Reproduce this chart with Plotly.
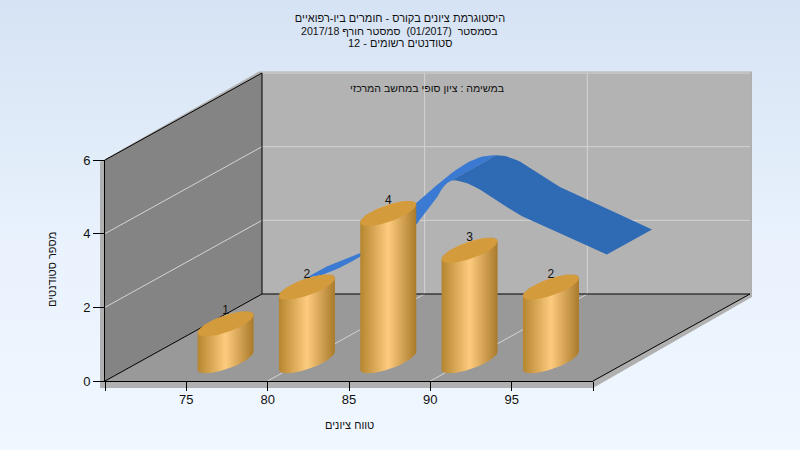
import numpy as np
import plotly.graph_objects as go

# ---- data ----
bins = [75, 80, 85, 90, 95]
students = [1, 2, 4, 3, 2]
x_ticks = [70, 75, 80, 85, 90, 95, 100]
x_labels = ["", "75", "80", "85", "90", "95", ""]
y_ticks = [0, 2, 4, 6]
x_grid = [80, 90]
y_grid = [2, 4, 6]
title_lines = [
    "היסטוגרמת ציונים בקורס - חומרים ביו-רפואיים",
    "בסמסטר  (01/2017)  סמסטר חורף 2017/18",
    "סטודנטים רשומים - 12",
]
subtitle = "במשימה : ציון סופי במחשב המרכזי"
x_title = "טווח ציונים"
y_title = "מספר סטודנטים"

# ---- layout geometry ----
W, H = 800, 450
L, R, B, T = 105, 593, 381, 160
X0, X1, Y0, Y1 = 70, 100, 0, 6
sx = (R - L) / (X1 - X0)
sy = (B - T) / (Y1 - Y0)
DX = 157 / sx      # depth vector in data units
DY = 87 / sy
xr = [X0 - L / sx, X0 + (W - L) / sx]
yr = [Y0 - (H - B) / sy, Y0 + B / sy]


def P(x, y, z):
    x, y, z = np.asarray(x, float), np.asarray(y, float), np.asarray(z, float)
    return x + z * DX, y + z * DY


def poly(xs, ys, color=None, **kw):
    return go.Scatter(x=list(xs), y=list(ys), mode="lines", fill="toself",
                      fillcolor=color, line=dict(width=0), hoverinfo="skip",
                      showlegend=False, **kw)


def segs(pairs, color, width=1):
    xs, ys = [], []
    for a, b in pairs:
        ax, ay = P(*a)
        bx, by = P(*b)
        xs += [float(ax), float(bx), None]
        ys += [float(ay), float(by), None]
    return go.Scatter(x=xs, y=ys, mode="lines", line=dict(color=color, width=width),
                      hoverinfo="skip", showlegend=False)


traces = []
# background
traces.append(poly([xr[0], xr[1], xr[1], xr[0]], [yr[0], yr[0], yr[1], yr[1]],
                   fillgradient=dict(type="vertical",
                                     colorscale=[[0, "#F0F7FF"], [0.45, "#E9F2FD"], [1, "#D6E3F4"]])))

# frame (thickness of the box)
fx, fy = 5 / sx, 7 / sy
corners = [(X0 - fx, Y0 - fy), (X1, Y0 - fy),
           (X1 + DX + 2 / sx, Y0 + DY - 3 / sy), (X1 + DX + 2 / sx, Y1 + DY + 1.5 / sy),
           (X0 + DX - 3 / sx, Y1 + DY + 1.5 / sy), (X0 - fx, Y1 - 2 / sy)]
traces.append(poly([c[0] for c in corners], [c[1] for c in corners], "#B0B0B0"))

# walls
bx, by = P([X0, X1, X1, X0], [Y0, Y0, Y1, Y1], [1, 1, 1, 1])
traces.append(poly(bx, by, "#B3B3B3"))
lx, ly = P([X0, X0, X0, X0], [Y0, Y0, Y1, Y1], [0, 1, 1, 0])
traces.append(poly(lx, ly, "#848484"))
ox, oy = P([X0, X1, X1, X0], [Y0, Y0, Y0, Y0], [0, 0, 1, 1])
traces.append(poly(ox, oy, "#999999"))

# grid lines
gc = "#D4D4D4"
grid = []
for v in y_grid:
    grid.append(((X0, v, 1), (X1, v, 1)))
    if v != Y1:
        grid.append(((X0, v, 0), (X0, v, 1)))
for v in x_grid:
    grid.append(((v, Y0, 1), (v, Y1, 1)))
    grid.append(((v, Y0, 0), (v, Y0, 1)))
traces.append(segs(grid, gc))

# box edges
edges = [((X0, Y0, 0), (X0, Y0, 1)), ((X0, Y1, 0), (X0, Y1, 1)),
         ((X0, Y0, 1), (X0, Y1, 1)), ((X0, Y0, 1), (X1, Y0, 1)),
         ((X1, Y0, 0), (X1, Y0, 1))]
traces.append(segs(edges, "#000000"))

# back series: smooth ribbon
Z_C, Z_R = 0.25, 0.144
ZB_0, ZB_1 = 0.75 - Z_R, 0.75 + Z_R
cx, cy = [], []
n = len(bins)
for i in range(n - 1):
    v0, v1 = students[i], students[i + 1]
    m0 = (students[i + 1] - students[i - 1]) / 2 if i > 0 else v1 - v0
    m1 = (students[i + 2] - students[i]) / 2 if i < n - 2 else v1 - v0
    for t in np.linspace(0, 1, 24, endpoint=False):
        h00 = 2 * t**3 - 3 * t**2 + 1
        h10 = t**3 - 2 * t**2 + t
        h01 = -2 * t**3 + 3 * t**2
        h11 = t**3 - t**2
        cy.append(h00 * v0 + h10 * m0 + h01 * v1 + h11 * m1)
        cx.append(bins[i] + t * (bins[i + 1] - bins[i]))
cx.append(bins[-1])
cy.append(students[-1])
cx, cy = np.array(cx), np.array(cy)
k = int(np.argmax(cy))
# on the rising part the far edge leads and the near edge lags, as in the reference rendering
lead = np.interp(cx, [bins[1] - 1, bins[1], bins[2] + 0.75], [0, 1.3, 0])
lag = np.interp(cx, [bins[1], bins[1] + 3.3, bins[1] + 4.5, bins[2] + 0.75], [0, 1.4, 1.2, 0])
cy_far = np.interp(cx + lead, cx, cy)
cy_near = np.interp(cx - lag, cx, cy)
for part, col in ((slice(0, k + 1), "#3A7AD2"), (slice(k, None), "#2F6AB5")):
    fx_, fy_ = P(cx[part], cy_near[part], ZB_0)
    bx_, by_ = P(cx[part], cy_far[part], ZB_1)
    traces.append(poly(np.r_[fx_, bx_[::-1]], np.r_[fy_, by_[::-1]], col))

# front series: elliptic cylinders
A = 19.6 / sx
BX = 20 / sx        # screen-x half-shear of the ellipse
DROP = 1.5 / sy     # cylinders sit slightly forward of the slot centre
t_r = np.arctan2(BX, A)


def ellipse(b, y, t):
    return (b + Z_C * DX + A * np.cos(t) + BX * np.sin(t),
            y + Z_C * DY - DROP + Z_R * DY * np.sin(t))


front = np.linspace(t_r + np.pi, t_r + 2 * np.pi, 50)
back = np.linspace(t_r, t_r + np.pi, 50)
full = np.linspace(0, 2 * np.pi, 100)
bar_scale = [[0, "#B5852F"], [0.5, "#FDCB7D"], [1, "#AA7A2B"]]
for b, v in zip(bins, students):
    x1, y1 = ellipse(b, 0, front)
    x2, y2 = ellipse(b, v, back)
    traces.append(poly(np.r_[x1, x2], np.r_[y1, y2],
                       fillgradient=dict(type="horizontal", colorscale=bar_scale)))
    x3, y3 = ellipse(b, v, full)
    traces.append(poly(x3, y3, "#D49B3C"))

# value labels
lbx, lby = P(bins, np.array(students) + 11 / sy, [Z_C] * n)
traces.append(go.Scatter(x=list(lbx), y=list(lby), mode="text", text=[str(v) for v in students],
                         textposition="middle center",
                         textfont=dict(family="Liberation Sans", size=12, color="#111111"),
                         hoverinfo="skip", showlegend=False))

# axis carrier on the real axes
traces.append(go.Scatter(x=bins, y=students, mode="markers", marker=dict(opacity=0),
                         xaxis="x2", yaxis="y2", hoverinfo="skip", showlegend=False))

fig = go.Figure(traces)
FONT = "Liberation Sans"


def ann(text, x, y, size=11, angle=0):
    return dict(text=text, x=x / W, y=1 - y / H, xref="paper", yref="paper", showarrow=False,
                xanchor="center", yanchor="middle", textangle=angle,
                font=dict(family=FONT, size=size, color="#111111"))


fig.update_layout(
    template="none",
    width=W, height=H, margin=dict(l=0, r=0, t=0, b=0, pad=0), autosize=False,
    paper_bgcolor="#EAF2FC", plot_bgcolor="rgba(0,0,0,0)", showlegend=False,
    title=dict(text=title_lines[0], x=0.5, xanchor="center", xref="paper",
               y=1 - 18.5 / H, yanchor="middle", yref="paper", automargin=False,
               font=dict(family=FONT, size=11, color="#111111")),
    xaxis=dict(domain=[0, 1], range=xr, visible=False, fixedrange=True, automargin=False),
    yaxis=dict(domain=[0, 1], range=yr, visible=False, fixedrange=True, automargin=False),
    xaxis2=dict(domain=[L / W, R / W], range=[X0, X1], anchor="y2", showgrid=False, zeroline=False,
                automargin=False, showline=True, linecolor="#000000", linewidth=1, ticks="outside",
                ticklen=9, tickcolor="#000000", tickmode="array", tickvals=x_ticks, ticktext=x_labels,
                ticklabelstandoff=-3,
                tickfont=dict(family=FONT, size=13, color="#111111"), fixedrange=True),
    yaxis2=dict(domain=[(H - B) / H, (H - T) / H], range=[Y0, Y1], anchor="x2", showgrid=False,
                automargin=False, zeroline=False, showline=True, linecolor="#000000", linewidth=1,
                ticks="outside", ticklen=11, tickcolor="#000000", tickmode="array", tickvals=y_ticks,
                tickfont=dict(family=FONT, size=13, color="#111111"), fixedrange=True),
    annotations=[
        ann(title_lines[1], 399, 30.5, size=10.6),
        ann(title_lines[2], 400, 43),
        ann(subtitle, 427, 88, size=10.6),
        ann(x_title, 349, 425),
        ann(y_title, 52, 270, angle=-90),
    ],
)
fig.write_html("out.html", config={"displayModeBar": False},
               post_script="document.body.style.margin='0';document.body.style.overflow='hidden';")
